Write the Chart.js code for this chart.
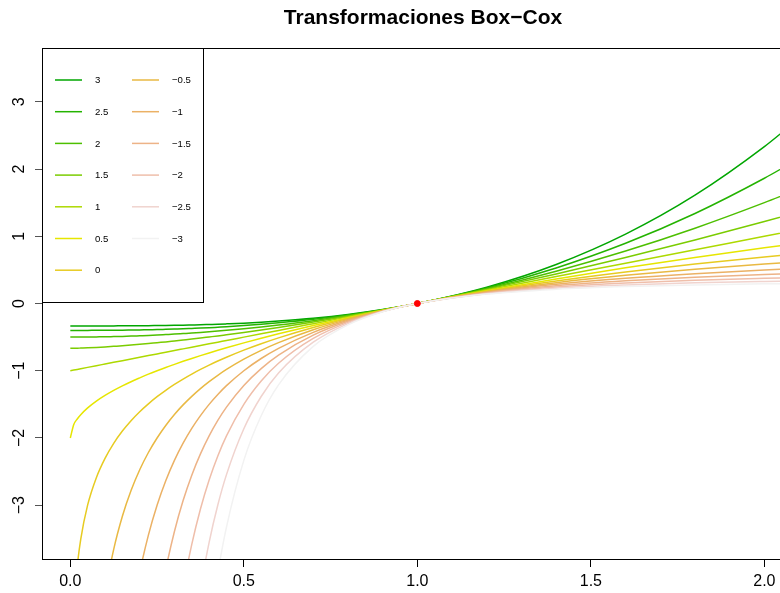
<!DOCTYPE html>
<html>
<head>
<meta charset="utf-8">
<script src="https://cdn.jsdelivr.net/npm/chart.js@4/dist/chart.umd.min.js"></script>
<style>
  html, body { margin: 0; padding: 0; background: #fff; }
</style>
</head>
<body>
<canvas id="myChart" width="780" height="593"></canvas>
<script>
const xs = [0, 0.01, 0.02, 0.03, 0.05, 0.075, 0.1, 0.125, 0.15, 0.175, 0.2, 0.225, 0.25, 0.275, 0.3, 0.325, 0.35, 0.375, 0.4, 0.425, 0.45, 0.5, 0.55, 0.6, 0.7, 0.8, 0.9, 1, 1.2, 1.4, 1.6, 1.8, 2, 2.1];

const lam3 = [-0.333, -0.333, -0.333, -0.333, -0.333, -0.333, -0.333, -0.333, -0.332, -0.332, -0.331, -0.33, -0.328, -0.326, -0.324, -0.322, -0.319, -0.316, -0.312, -0.308, -0.303, -0.292, -0.278, -0.261, -0.219, -0.163, -0.09, 0, 0.243, 0.581, 1.032, 1.611, 2.333, 2.754];
const lam2_5 = [-0.4, -0.4, -0.4, -0.4, -0.4, -0.399, -0.399, -0.398, -0.397, -0.395, -0.393, -0.39, -0.388, -0.384, -0.38, -0.376, -0.371, -0.366, -0.36, -0.353, -0.346, -0.329, -0.31, -0.288, -0.236, -0.171, -0.093, 0, 0.231, 0.528, 0.895, 1.339, 1.863, 2.156];
const lam2 = [-0.5, -0.5, -0.5, -0.5, -0.499, -0.497, -0.495, -0.492, -0.489, -0.485, -0.48, -0.475, -0.469, -0.462, -0.455, -0.447, -0.439, -0.43, -0.42, -0.41, -0.399, -0.375, -0.349, -0.32, -0.255, -0.18, -0.095, 0, 0.22, 0.48, 0.78, 1.12, 1.5, 1.705];
const lam1_5 = [-0.667, -0.666, -0.665, -0.663, -0.659, -0.653, -0.646, -0.637, -0.628, -0.618, -0.607, -0.596, -0.583, -0.571, -0.557, -0.543, -0.529, -0.514, -0.498, -0.482, -0.465, -0.431, -0.395, -0.357, -0.276, -0.19, -0.097, 0, 0.21, 0.438, 0.683, 0.943, 1.219, 1.362];
const lam1 = [-1, -0.99, -0.98, -0.97, -0.95, -0.925, -0.9, -0.875, -0.85, -0.825, -0.8, -0.775, -0.75, -0.725, -0.7, -0.675, -0.65, -0.625, -0.6, -0.575, -0.55, -0.5, -0.45, -0.4, -0.3, -0.2, -0.1, 0, 0.2, 0.4, 0.6, 0.8, 1, 1.1];
const lam0_5 = [-2, -1.8, -1.717, -1.654, -1.553, -1.452, -1.368, -1.293, -1.225, -1.163, -1.106, -1.051, -1, -0.951, -0.905, -0.86, -0.817, -0.775, -0.735, -0.696, -0.658, -0.586, -0.517, -0.451, -0.327, -0.211, -0.103, 0, 0.191, 0.366, 0.53, 0.683, 0.828, 0.898];
const lam0 = [null, -4.605, -3.912, -3.507, -2.996, -2.59, -2.303, -2.079, -1.897, -1.743, -1.609, -1.492, -1.386, -1.291, -1.204, -1.124, -1.05, -0.981, -0.916, -0.856, -0.799, -0.693, -0.598, -0.511, -0.357, -0.223, -0.105, 0, 0.182, 0.336, 0.47, 0.588, 0.693, 0.742];
const lamM0_5 = [null, null, null, -9.55, -6.944, -5.303, -4.325, -3.657, -3.164, -2.781, -2.472, -2.216, -2, -1.814, -1.651, -1.508, -1.381, -1.266, -1.162, -1.068, -0.981, -0.828, -0.697, -0.582, -0.39, -0.236, -0.108, 0, 0.174, 0.31, 0.419, 0.509, 0.586, 0.62];
const lamM1 = [null, null, null, null, null, null, -9, -7, -5.667, -4.714, -4, -3.444, -3, -2.636, -2.333, -2.077, -1.857, -1.667, -1.5, -1.353, -1.222, -1, -0.818, -0.667, -0.429, -0.25, -0.111, 0, 0.167, 0.286, 0.375, 0.444, 0.5, 0.524];
const lamM1_5 = [null, null, null, null, null, null, null, null, null, null, -6.787, -5.58, -4.667, -3.957, -3.391, -2.931, -2.553, -2.237, -1.969, -1.739, -1.541, -1.219, -0.968, -0.767, -0.471, -0.265, -0.114, 0, 0.16, 0.264, 0.337, 0.391, 0.431, 0.448];
const lamM2 = [null, null, null, null, null, null, null, null, null, null, null, null, -7.5, -6.11, -5.056, -4.234, -3.582, -3.056, -2.625, -2.268, -1.969, -1.5, -1.153, -0.889, -0.52, -0.281, -0.117, 0, 0.153, 0.245, 0.305, 0.346, 0.375, 0.387];
const lamM2_5 = [null, null, null, null, null, null, null, null, null, null, null, null, null, null, -7.71, -6.243, -5.119, -4.245, -3.552, -2.997, -2.545, -1.863, -1.383, -1.034, -0.576, -0.299, -0.12, 0, 0.146, 0.228, 0.276, 0.308, 0.329, 0.337];
const lamM3 = [null, null, null, null, null, null, null, null, null, null, null, null, null, null, null, null, -7.44, -5.988, -4.875, -4.01, -3.325, -2.333, -1.67, -1.21, -0.638, -0.318, -0.124, 0, 0.14, 0.212, 0.252, 0.276, 0.292, 0.297];

const lambdas = [3, 2.5, 2, 1.5, 1, 0.5, 0, -0.5, -1, -1.5, -2, -2.5, -3];
const series = [lam3, lam2_5, lam2, lam1_5, lam1, lam0_5, lam0, lamM0_5, lamM1, lamM1_5, lamM2, lamM2_5, lamM3];
const colors = ["#00A600", "#24B300", "#4DBF00", "#7ACC00", "#ADD900", "#E6E600", "#E7CB21", "#E9B943", "#EBB165", "#EDB387", "#EFBEAA", "#F0D3CE", "#F2F2F2"];

const pointX = [1];
const pointY = [0];

const xTicks = [0, 0.5, 1, 1.5, 2];
const yTicks = [-3, -2, -1, 0, 1, 2, 3];

const titleText = "Transformaciones Box\u2212Cox";
const fontFamily = "'Liberation Sans', Arial, Helvetica, sans-serif";

const minus = (v) => String(v).replace("-", "\u2212");

Chart.defaults.font.family = fontFamily;
Chart.defaults.color = "#000";

const datasets = series.map((ys, i) => ({
  label: minus(lambdas[i]),
  data: xs.map((x, j) => ({ x: x, y: ys[j] })),
  borderColor: colors[i],
  borderWidth: 1.5,
  pointRadius: 0,
  fill: false,
  cubicInterpolationMode: "monotone",
  clip: 0,
  order: lambdas.length - i + 1,
}));

datasets.push({
  type: "scatter",
  label: "punto",
  data: pointX.map((x, j) => ({ x: x, y: pointY[j] })),
  backgroundColor: "#FF0000",
  borderColor: "#FF0000",
  pointRadius: 3,
  order: 0,
});

// box, legend and title, drawn like the R base plot
const decor = {
  id: "decor",
  afterDraw(chart) {
    const { ctx, chartArea } = chart;
    ctx.save();
    ctx.strokeStyle = "#000";
    ctx.lineWidth = 1;
    ctx.strokeRect(chartArea.left + 0.5, chartArea.top + 0.5, chartArea.right - chartArea.left + 20, chartArea.bottom - chartArea.top);

    // legend
    const lx = chartArea.left, ly = chartArea.top;
    ctx.fillStyle = "#fff";
    ctx.fillRect(lx + 0.5, ly + 0.5, 161, 254);
    ctx.strokeRect(lx + 0.5, ly + 0.5, 161, 254);
    ctx.font = "9.6px " + fontFamily;
    ctx.textBaseline = "middle";
    ctx.textAlign = "left";
    lambdas.forEach((lam, i) => {
      const col = i < 7 ? 0 : 1;
      const row = i < 7 ? i : i - 7;
      const y = ly + 32 + row * 31.7;
      const x0 = lx + 13 + col * 77;
      ctx.strokeStyle = colors[i];
      ctx.lineWidth = 1.5;
      ctx.beginPath();
      ctx.moveTo(x0, y);
      ctx.lineTo(x0 + 27, y);
      ctx.stroke();
      ctx.fillStyle = "#000";
      ctx.fillText(minus(lam), x0 + 40, y + 0.5);
    });

    // title
    ctx.font = "bold 21px " + fontFamily;
    ctx.textAlign = "center";
    ctx.textBaseline = "alphabetic";
    ctx.fillStyle = "#000";
    ctx.fillText(titleText, 423, 24);
    ctx.restore();
  },
};

const myChart = document.querySelector("#myChart").getContext("2d");

new Chart(myChart, {
  type: "line",
  data: { datasets: datasets },
  plugins: [decor],
  options: {
    responsive: false,
    animation: false,
    devicePixelRatio: 1,
    layout: { autoPadding: false, padding: { top: 48, left: 0, right: 0, bottom: 0 } },
    plugins: {
      legend: { display: false },
      tooltip: { enabled: false },
      title: { display: false },
    },
    scales: {
      x: {
        type: "linear",
        min: -0.0816,
        max: 2.045,
        afterBuildTicks: (s) => { s.ticks = xTicks.map((v) => ({ value: v })); },
        afterFit: (s) => { s.height = 34; s.paddingLeft = 0; s.paddingRight = 0; },
        ticks: {
          callback: (v) => v.toFixed(1),
          font: { size: 16 },
          color: "#000",
          padding: 5,
          maxRotation: 0,
          autoSkip: false,
        },
        grid: { drawOnChartArea: false, tickLength: 8, color: "#000" },
        border: { color: "#000" },
      },
      y: {
        type: "linear",
        min: -3.8,
        max: 3.8,
        afterBuildTicks: (s) => { s.ticks = yTicks.map((v) => ({ value: v })); },
        afterFit: (s) => { s.width = 42; s.paddingTop = 0; s.paddingBottom = 0; },
        ticks: {
          callback: (v) => minus(v),
          font: { size: 16 },
          color: "#000",
          minRotation: 90,
          maxRotation: 90,
          crossAlign: "center",
          padding: 6,
          autoSkip: false,
        },
        grid: { drawOnChartArea: false, tickLength: 7, color: "#555" },
        border: { color: "#000" },
      },
    },
  },
});
</script>
</body>
</html>
